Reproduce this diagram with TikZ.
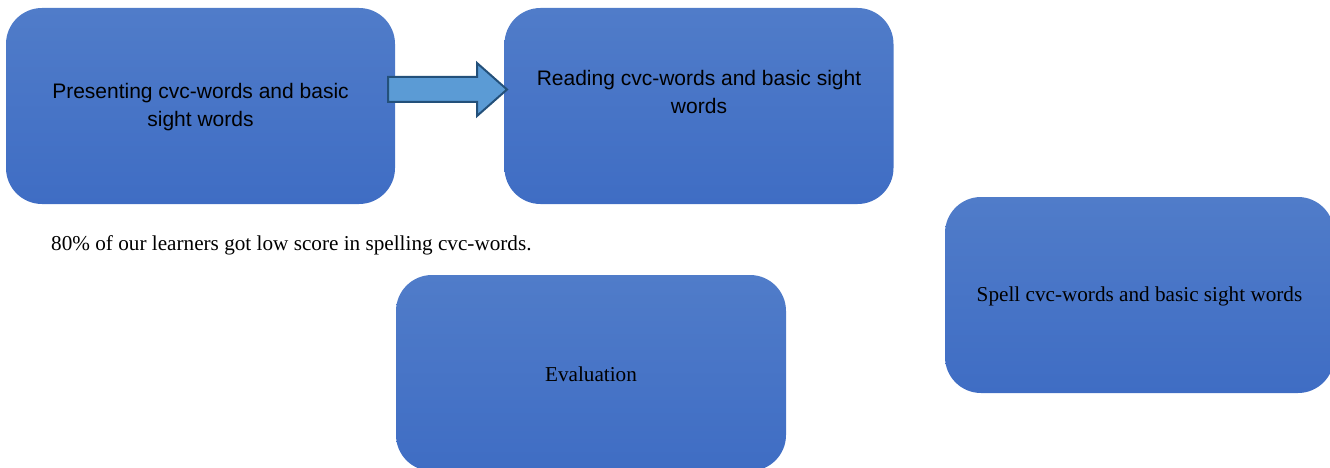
\documentclass[tikz,border=0pt]{standalone}
\usepackage{fontspec}
\setmainfont{Liberation Serif}
\newfontfamily\arialfont{Liberation Sans}
\definecolor{boxtop}{RGB}{80,124,201}
\definecolor{boxbot}{RGB}{63,109,196}
\definecolor{arrfill}{RGB}{91,155,213}
\definecolor{arrline}{RGB}{35,80,122}
\begin{document}
\begin{tikzpicture}[x=1pt,y=-1pt,
  bluebox/.style={rounded corners=36pt, minimum width=389pt, minimum height=196pt,
    inner sep=0pt, top color=boxtop, bottom color=boxbot, draw=none},
  sanslabel/.style={align=center, inner sep=0pt, font=\arialfont\fontsize{21}{28.5}\selectfont, text=black},
  seriflabel/.style={align=center, inner sep=0pt, font=\fontsize{21.2}{28}\selectfont, text=black}]
\useasboundingbox (0,0) rectangle (1330,468);
\node[bluebox] (b1) at (200.5,106) {};
\node[bluebox] (b2) at (699,106) {};
\node[bluebox] (b3) at (1139.5,295) {};
\node[bluebox, minimum width=390pt] (b4) at (591,373) {};
\node[sanslabel] (t1) at ([yshift=-1pt]b1.center) {Presenting cvc-words and basic\\sight words};
\node[sanslabel] (t2) at ([yshift=14pt]b2.center) {Reading cvc-words and basic sight\\words};
\node[seriflabel] (t3) at ([yshift=-1pt]b3.center) {Spell cvc-words and basic sight words};
\node[seriflabel] (t4) at ([yshift=-1pt]b4.center) {Evaluation};
\node[seriflabel, anchor=west] (note) at (51,245) {80\% of our learners got low score in spelling cvc-words.};
\draw[fill=arrfill, draw=arrline, line width=2pt, line join=miter]
  (388,77) -- (477,77) -- (477,63) -- (507,89.5) -- (477,116) -- (477,102) -- (388,102) -- cycle;
\end{tikzpicture}
\end{document}
